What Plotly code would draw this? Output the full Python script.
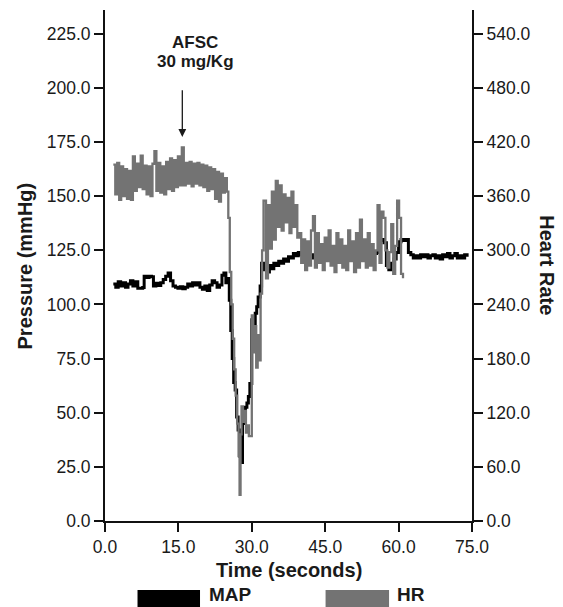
import plotly.graph_objects as go

# ---------------- data ----------------
# Mean arterial pressure (mmHg), left axis
map_time = [1.7, 2.2, 2.7, 3.2, 3.7, 4.2, 4.7, 5.2, 5.7, 6.2, 6.7, 7.2, 7.7, 8.0, 8.5, 9.0, 9.5, 9.9,
            10.4, 10.9, 11.4, 11.9, 12.4, 12.9, 13.4, 13.9, 14.4, 14.9, 15.4, 15.9, 16.4, 16.9, 17.4,
            17.9, 18.4, 18.9, 19.4, 19.9, 20.4, 20.9, 21.4, 21.9, 22.4, 22.9, 23.4, 23.9, 24.3, 24.7,
            25.1, 25.4, 25.7, 26.0, 26.3, 26.6, 26.9, 27.2, 27.5, 27.8, 28.1, 28.4, 28.7, 29.0, 29.3,
            29.6, 30.0, 30.3, 30.7, 31.0, 31.3, 31.7, 32.0, 32.4, 32.8, 33.2, 33.6, 34.0, 34.5, 35.0,
            35.5, 36.0, 36.5, 37.0, 37.5, 38.0, 38.5, 39.0, 39.5, 40.0, 40.5, 41.0, 41.5, 42.0, 42.5,
            43.0, 43.5, 44.0, 44.5, 45.0, 45.5, 46.0, 46.5, 47.0, 47.5, 48.0, 48.5, 49.0, 49.5, 50.0,
            50.5, 51.0, 51.5, 52.0, 52.5, 53.0, 53.5, 54.0, 54.5, 55.0, 55.5, 56.0, 56.5, 57.0, 57.5,
            58.0, 58.5, 59.0, 59.5, 60.0, 60.5, 61.0, 61.5, 62.0, 62.5, 63.0, 63.5, 64.0, 64.5, 65.0,
            65.5, 66.0, 66.5, 67.0, 67.5, 68.0, 68.5, 69.0, 69.5, 70.0, 70.5, 71.0, 71.5, 72.0, 72.5,
            73.0, 73.5, 74.0]
map_values = [109.5, 108.0, 110.5, 108.5, 110.0, 108.0, 109.5, 111.0, 108.5, 110.5, 107.5, 107.5,
              107.8, 113.0, 112.5, 113.0, 112.8, 108.5, 109.8, 108.8, 110.0, 111.5, 113.0, 114.5,
              111.0, 108.5, 108.0, 107.5, 108.2, 107.3, 108.0, 109.5, 108.5, 110.0, 109.0, 110.0,
              108.0, 107.0, 108.5, 106.5, 109.0, 111.0, 110.0, 108.0, 109.0, 113.5, 114.5, 110.0,
              112.0, 102.0, 88.0, 75.0, 64.0, 60.5, 48.0, 42.0, 30.0, 27.0, 45.0, 49.5, 52.5, 54.5,
              57.5, 63.5, 93.0, 90.5, 96.0, 99.0, 103.5, 108.5, 119.0, 116.0, 119.0, 115.0, 118.0,
              116.5, 119.0, 118.0, 120.0, 119.0, 121.0, 120.0, 122.0, 121.5, 123.5, 122.5, 124.0,
              123.0, 122.5, 123.5, 122.0, 123.0, 121.5, 123.0, 122.0, 123.5, 122.0, 122.5, 121.5,
              123.0, 122.0, 122.5, 121.5, 123.0, 122.0, 122.5, 121.5, 122.5, 121.0, 122.5, 122.0,
              123.0, 122.0, 123.0, 122.5, 123.0, 122.5, 123.5, 124.0, 129.5, 130.0, 128.5, 118.0,
              116.0, 119.0, 121.0, 124.0, 129.0, 130.0, 129.5, 130.0, 124.0, 123.0, 121.5, 122.5,
              121.5, 123.0, 122.0, 123.0, 121.5, 122.5, 123.0, 121.5, 122.5, 121.0, 123.0, 122.0,
              123.5, 121.5, 122.5, 123.5, 121.5, 122.5, 121.5, 123.0, 122.0]

# Heart rate (beats/min), right axis
hr_time = [1.7, 2.1, 2.5, 2.9, 3.3, 3.7, 4.1, 4.5, 4.9, 5.3, 5.7, 6.1, 6.5, 6.9, 7.3, 7.7, 8.1, 8.5,
           8.9, 9.3, 9.7, 10.1, 10.5, 10.9, 11.3, 11.7, 12.1, 12.5, 12.9, 13.3, 13.7, 14.1, 14.5,
           14.9, 15.3, 15.7, 16.1, 16.5, 16.9, 17.3, 17.7, 18.1, 18.5, 18.9, 19.3, 19.7, 20.1, 20.5,
           20.9, 21.3, 21.7, 22.1, 22.5, 22.9, 23.3, 23.7, 24.1, 24.5,
           24.9, 25.2, 25.5, 25.8, 26.1, 26.4, 26.7, 27.0, 27.3, 27.5, 27.7, 27.9, 28.2, 28.5, 28.8,
           29.1, 29.4, 29.8, 30.0, 30.3, 30.6, 30.9, 31.2, 31.5, 31.8, 32.1, 32.4,
           32.9, 33.3, 33.7, 34.1, 34.5, 34.9, 35.3, 35.7, 36.1, 36.5, 36.9, 37.3, 37.7, 38.1, 38.5,
           38.9, 39.3, 39.7, 40.1, 40.5, 40.9, 41.3, 41.7, 42.1, 42.5, 42.9, 43.3, 43.7, 44.1, 44.5,
           44.9, 45.3, 45.7, 46.1, 46.5, 46.9, 47.3, 47.7, 48.1, 48.5, 48.9, 49.3, 49.7, 50.1, 50.5,
           50.9, 51.3, 51.7, 52.1, 52.5, 52.9, 53.3, 53.7, 54.1, 54.5, 54.9, 55.3, 55.7, 56.1, 56.5,
           56.9, 57.3, 57.7, 58.1, 58.5, 58.9, 59.3, 59.7, 60.1, 60.5, 60.9]
hr_values = [395, 362, 397, 356, 393, 360, 390, 357, 388, 356, 404, 366, 396, 370, 405, 368, 394, 362,
             393, 360, 396, 410, 366, 397, 364, 393, 362, 398, 368, 402, 366, 400, 370,
             404, 372, 414, 372, 397, 374, 398, 371, 396, 374, 397, 372, 395, 370, 394,
             366, 392, 368, 390, 357, 387, 354, 385, 364, 380,
             365, 336, 276, 240, 202, 168, 139, 108, 72, 29, 96, 127, 110, 122, 98,
             106, 94, 94, 228, 187, 216, 170, 206, 178, 252, 300, 355,
             269, 350, 302, 365, 312, 377, 326, 372, 322, 362, 331, 358, 319, 365, 326,
             350, 314, 319, 286, 312, 278, 310, 283, 322, 338, 281, 319, 286, 307, 278,
             314, 288, 322, 283, 305, 276, 319, 286, 312, 281, 305, 278, 322, 288, 310,
             276, 319, 281, 334, 288, 312, 281, 319, 283, 307, 278, 300, 350, 286, 343,
             336, 300, 281, 298, 329, 274, 305, 355, 336, 274, 269]

x_ticks = [0, 15, 30, 45, 60, 75]
left_ticks = [0, 25, 50, 75, 100, 125, 150, 175, 200, 225]
right_ticks = [0, 60, 120, 180, 240, 300, 360, 420, 480, 540]

series_names = ["MAP", "HR"]
series_colors = ["#000000", "#737373"]

FONT = "Liberation Sans, Arial, Helvetica, sans-serif"
INK = "#1a1a1a"

fig = go.Figure()
fig.add_trace(go.Scatter(x=map_time, y=map_values, mode="lines", name=series_names[0],
                         line=dict(color=series_colors[0], width=3, shape="hv"),
                         yaxis="y", showlegend=False))
fig.add_trace(go.Scatter(x=hr_time, y=hr_values, mode="lines", name=series_names[1],
                         line=dict(color=series_colors[1], width=2.3, shape="hv"),
                         yaxis="y2", showlegend=False))

axis_common = dict(showline=True, linecolor="#111111", linewidth=2, ticks="outside",
                   ticklen=9, tickwidth=2, tickcolor="#111111", showgrid=False,
                   zeroline=False, tickfont=dict(family=FONT, size=17.5, color=INK))

fig.update_layout(
    width=563, height=607,
    margin=dict(l=105, r=91, t=10, b=86),
    paper_bgcolor="white", plot_bgcolor="white",
    xaxis=dict(range=[0, 75], tickvals=x_ticks, ticktext=[f"{v:.1f}" for v in x_ticks],
               **axis_common),
    yaxis=dict(range=[0, 236], tickvals=left_ticks, ticktext=[f"{v:.1f}" for v in left_ticks],
               **axis_common),
    yaxis2=dict(range=[0, 236 * 2.4], overlaying="y", side="right", tickvals=right_ticks,
                ticktext=[f"{v:.1f}" for v in right_ticks], **axis_common),
)

title_font = dict(family=FONT, size=20, color=INK)
note_font = dict(family=FONT, size=17, color=INK)
legend_font = dict(family=FONT, size=19, color=INK)
annotations = [
    dict(text="<b>Time (seconds)</b>", xref="paper", yref="paper", x=0.5, y=-0.096,
         xanchor="center", yanchor="middle", showarrow=False, font=title_font),
    dict(text="<b>Pressure (mmHg)</b>", xref="paper", yref="paper", x=-0.218, y=0.5,
         xanchor="center", yanchor="middle", textangle=-90, showarrow=False, font=title_font),
    dict(text="<b>Heart Rate</b>", xref="paper", yref="paper", x=1.205, y=0.5,
         xanchor="center", yanchor="middle", textangle=90, showarrow=False, font=title_font),
    dict(text="<b>AFSC</b>", xref="x", yref="y", x=18.4, y=220.9,
         xanchor="center", yanchor="middle", showarrow=False, font=note_font),
    dict(text="<b>30 mg/Kg</b>", xref="x", yref="y", x=18.4, y=212.1,
         xanchor="center", yanchor="middle", showarrow=False, font=note_font),
    dict(text="", xref="x", yref="y", x=15.8, y=177.4, axref="x", ayref="y", ax=15.8, ay=199.6,
         showarrow=True, arrowhead=2, arrowsize=1.2, arrowwidth=1.3, arrowcolor=INK),
    dict(text="<b>MAP</b>", xref="paper", yref="paper", x=0.2807, y=-0.1673,
         xanchor="left", yanchor="bottom", showarrow=False, font=legend_font, borderpad=0),
    dict(text="<b>HR</b>", xref="paper", yref="paper", x=0.792, y=-0.1673,
         xanchor="left", yanchor="bottom", showarrow=False, font=legend_font, borderpad=0),
]
shapes = [
    dict(type="rect", xref="paper", yref="paper", x0=0.0886, x1=0.2589, y0=-0.176, y1=-0.135,
         fillcolor=series_colors[0], line=dict(width=0)),
    dict(type="rect", xref="paper", yref="paper", x0=0.601, x1=0.774, y0=-0.176, y1=-0.135,
         fillcolor=series_colors[1], line=dict(width=0)),
]
fig.update_layout(annotations=annotations, shapes=shapes)

fig.write_html("out.html", config={"displayModeBar": False},
               post_script="document.body.style.margin='0';document.body.style.overflow='hidden';")
